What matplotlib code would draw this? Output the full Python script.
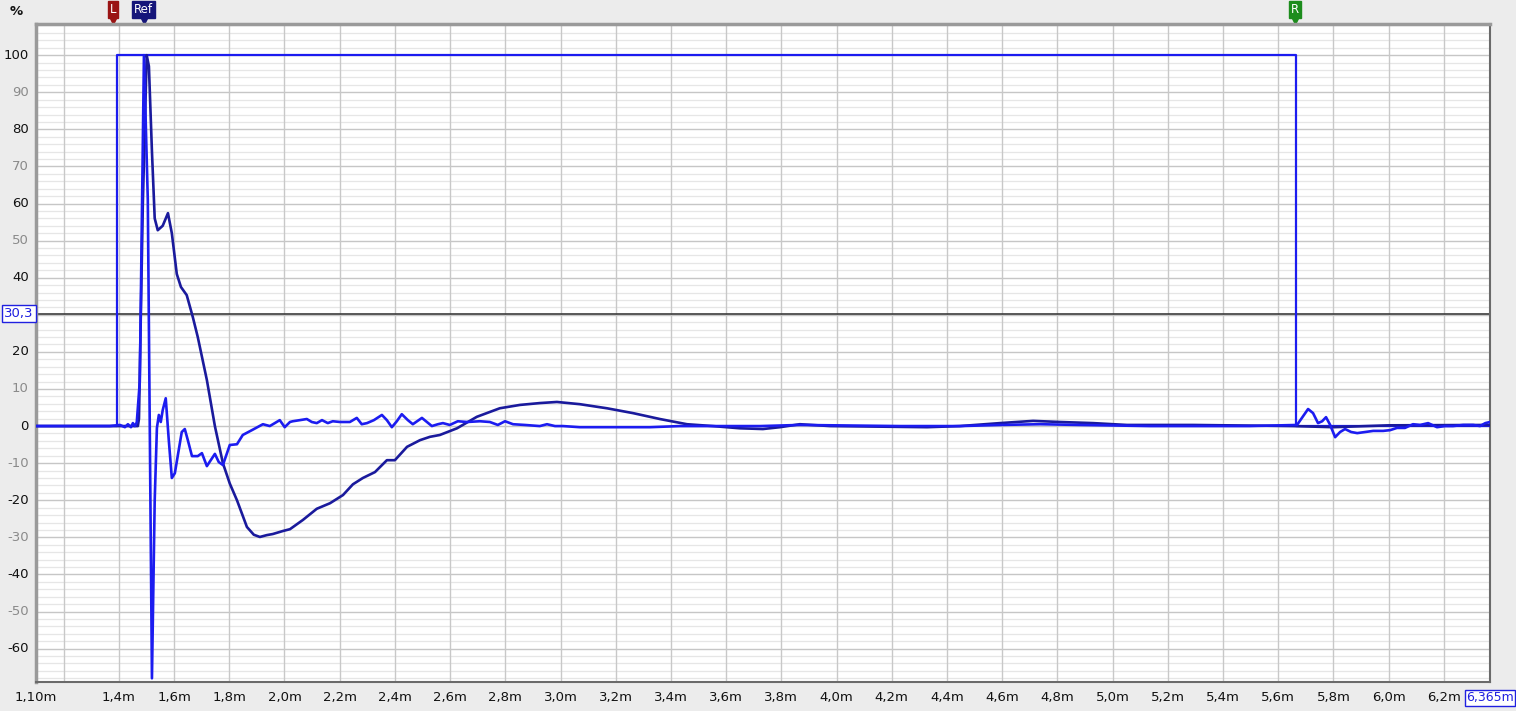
"""
Impulse response plot (REW style): impulse, step and window
"""

import numpy as np
import matplotlib.pyplot as plt
from matplotlib import transforms

# --- data (distance in m, level in %) ---
win_x = [1.10, 1.393, 1.393, 5.665, 5.665, 6.367]
win_y = [0, 0, 100, 100, 0, 0]

imp_x = [1.100, 1.367, 1.404, 1.422, 1.433, 1.444, 1.451, 1.458, 1.465, 1.476,
         1.491, 1.505, 1.520, 1.530, 1.538, 1.545, 1.552, 1.559, 1.570, 1.581,
         1.592, 1.603, 1.614, 1.628, 1.639, 1.650, 1.665, 1.686, 1.701, 1.719,
         1.733, 1.748, 1.762, 1.777, 1.802, 1.828, 1.849, 1.882, 1.922, 1.947,
         1.983, 2.001, 2.020, 2.030, 2.056, 2.081, 2.099, 2.117, 2.136, 2.157,
         2.175, 2.201, 2.237, 2.262, 2.280, 2.299, 2.324, 2.353, 2.371, 2.389,
         2.407, 2.425, 2.447, 2.465, 2.498, 2.516, 2.534, 2.556, 2.574, 2.599,
         2.628, 2.661, 2.708, 2.744, 2.773, 2.799, 2.828, 2.871, 2.925, 2.951,
         2.980, 3.009, 3.070, 3.143, 3.215, 3.324, 3.433, 3.505, 3.723, 3.867,
         4.230, 4.447, 4.592, 4.737, 4.882, 5.136, 5.317, 5.498, 5.668, 5.708,
         5.726, 5.744, 5.759, 5.773, 5.788, 5.806, 5.824, 5.842, 5.864, 5.886,
         5.915, 5.944, 5.980, 6.005, 6.030, 6.059, 6.088, 6.114, 6.143, 6.175,
         6.204, 6.233, 6.270, 6.306, 6.331, 6.350, 6.367]
imp_y = [0, 0, 0.3, -0.3, 0.5, -0.3, 0.8, 0, 1.0, 12,
         100, 61, -68, -20, -0.5, 3.0, 1.1, 4.3, 7.5, -3.8,
         -14, -12.7, -7.8, -1.6, -0.8, -3.8, -8.1, -8.1, -7.3, -10.8,
         -9.2, -7.5, -9.7, -10.5, -5.1, -4.9, -2.4, -1.1, 0.5, 0,
         1.6, -0.3, 1.1, 1.3, 1.6, 1.9, 1.1, 0.8, 1.6, 0.8,
         1.3, 1.1, 1.1, 2.2, 0.5, 0.8, 1.6, 3.0, 1.6, -0.3,
         1.3, 3.2, 1.6, 0.5, 2.2, 1.1, 0, 0.5, 0.8, 0.3,
         1.3, 1.1, 1.3, 1.1, 0.3, 1.3, 0.5, 0.3, 0, 0.5,
         0, 0, -0.3, -0.3, -0.3, -0.3, 0, 0, 0, 0.3,
         0, 0, 0.3, 0.5, 0.3, 0, 0, 0, 0.3, 4.6,
         3.5, 0.8, 1.3, 2.4, 0.3, -3.0, -1.6, -0.8, -1.6, -1.9,
         -1.6, -1.3, -1.3, -1.1, -0.5, -0.5, 0.5, 0.3, 0.8, -0.3,
         0, 0, 0.3, 0.3, 0, 0.8, 1.1]

step_x = [1.100, 1.469, 1.473, 1.487, 1.501, 1.509, 1.520, 1.530, 1.541, 1.559,
          1.578, 1.592, 1.610, 1.625, 1.646, 1.668, 1.686, 1.719, 1.748, 1.777,
          1.802, 1.828, 1.864, 1.889, 1.911, 1.936, 1.958, 1.994, 2.020, 2.067,
          2.117, 2.165, 2.212, 2.248, 2.284, 2.328, 2.371, 2.400, 2.444, 2.491,
          2.527, 2.563, 2.625, 2.697, 2.780, 2.853, 2.925, 2.987, 3.070, 3.168,
          3.262, 3.360, 3.458, 3.552, 3.650, 3.733, 3.795, 3.867, 3.976, 4.328,
          4.447, 4.592, 4.712, 4.809, 4.929, 5.052, 5.291, 5.654, 5.800, 6.000,
          6.367]
step_y = [0, 0, 2, 60, 100, 97, 74, 56, 52.8, 54,
          57.4, 52, 41, 37.5, 35.3, 29.4, 24, 12.4, 0, -10,
          -15.5, -20, -27.2, -29.3, -29.9, -29.4, -29.1, -28.3, -27.8, -25.3,
          -22.3, -20.8, -18.6, -15.7, -14, -12.4, -9.2, -9.2, -5.6, -3.8,
          -2.9, -2.4, -0.6, 2.5, 4.8, 5.7, 6.2, 6.5, 5.9, 4.8,
          3.5, 1.9, 0.5, 0, -0.6, -0.8, -0.3, 0.5, 0, -0.3,
          0, 0.8, 1.4, 1.1, 0.8, 0.3, 0.3, 0, -0.3, 0.2,
          0.3]

cursor_y = 30.3
x_ticks = [1.2, 1.4, 1.6, 1.8, 2.0, 2.2, 2.4, 2.6, 2.8, 3.0, 3.2, 3.4, 3.6, 3.8,
           4.0, 4.2, 4.4, 4.6, 4.8, 5.0, 5.2, 5.4, 5.6, 5.8, 6.0, 6.2]
y_ticks = [100, 90, 80, 70, 60, 50, 40, 20, 10, 0, -10, -20, -30, -40, -50, -60]
markers = [('L', 1.378, '#9a1414'), ('Ref', 1.490, '#15157a'), ('R', 5.661, '#1c8c1c')]

x_min, x_max = 1.10, 6.367
y_min, y_max = -69.0, 108.4

BRIGHT = '#1c1cf0'
DARK = '#1a1a9c'
FS = 9.5


def fmt(v, dec):
    return f"{v:.{dec}f}".replace('.', ',')


fig = plt.figure(figsize=(15.16, 7.11), dpi=100, facecolor='#ececec')
ax = fig.add_axes([36 / 1516, 1 - 682 / 711, (1490 - 36) / 1516, (682 - 24) / 711])
ax.set_facecolor('white')
ax.set_xlim(x_min, x_max)
ax.set_ylim(y_min, y_max)

# grid
for v in np.arange(-68, 108.1, 2):
    major = abs(v % 10) < 1e-6
    ax.axhline(v, color='#c6c6c6' if major else '#e6e6e6', lw=1.0 if major else 0.9, zorder=0)
for v in x_ticks:
    ax.axvline(v, color='#c8c8c8', lw=1.0, zorder=0)

ax.axhline(cursor_y, color='#3c3c3c', lw=1.2, zorder=1)

ax.plot(win_x, win_y, color=BRIGHT, lw=1.6, zorder=3)
ax.plot(step_x, step_y, color=DARK, lw=1.9, zorder=4, solid_joinstyle='round')
ax.plot(imp_x, imp_y, color=BRIGHT, lw=1.9, zorder=5, solid_joinstyle='round')

ax.set_xticks([])
ax.set_yticks([])
for s in ['left', 'top']:
    ax.spines[s].set_color('#9a9a9a')
    ax.spines[s].set_linewidth(2.5)
for s in ['right', 'bottom']:
    ax.spines[s].set_color('#6a6a6a')
    ax.spines[s].set_linewidth(1.5)

# axis labels as text
ytr = transforms.blended_transform_factory(ax.transAxes, ax.transData)
for v in y_ticks:
    col = '#111111' if v % 20 == 0 else '#8a8a8a'
    ax.text(-0.005, v, str(v), transform=ytr, ha='right', va='center',
            fontsize=FS, color=col)
ax.text(-0.0015, cursor_y, fmt(cursor_y, 1), transform=ytr, ha='right', va='center',
        fontsize=FS, color='#2020e0',
        bbox=dict(boxstyle='square,pad=0.15', fc='white', ec='#2020e0', lw=1))
ax.text(-0.009, 1.019, '%', transform=ax.transAxes, ha='right', va='center',
        fontsize=FS, color='#111111', fontweight='bold')

xtr = transforms.blended_transform_factory(ax.transData, ax.transAxes)
for v in x_ticks[1:]:
    ax.text(v, -0.024, fmt(v, 1) + 'm', transform=xtr, ha='center', va='center',
            fontsize=FS, color='#111111')
ax.text(x_min, -0.024, fmt(x_min, 2) + 'm', transform=xtr, ha='center', va='center',
        fontsize=FS, color='#111111')
ax.text(x_max, -0.024, '6,365m', transform=xtr, ha='center', va='center',
        fontsize=9, color='#2020e0',
        bbox=dict(boxstyle='square,pad=0.12', fc='white', ec='#2020e0', lw=1))

# L / Ref / R flags
for name, xv, col in markers:
    ax.text(xv, 1.022, name, transform=xtr, ha='center', va='center', fontsize=8.5,
            color='white', clip_on=False,
            bbox=dict(boxstyle='square,pad=0.15', fc=col, ec=col))
    ax.plot([xv], [1.006], marker='v', ms=6, color=col, transform=xtr, clip_on=False)

fig.savefig('out.png', dpi=100, facecolor=fig.get_facecolor())
